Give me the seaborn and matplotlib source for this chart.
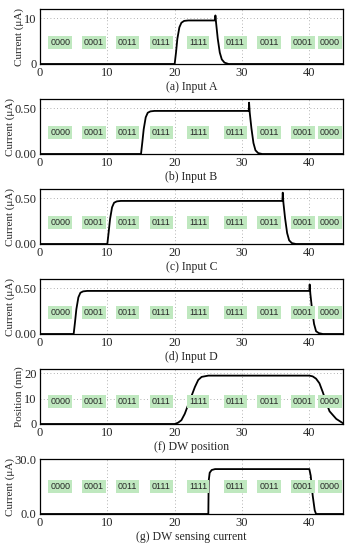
import numpy as np
import pandas as pd
import matplotlib
matplotlib.use("Agg")
import matplotlib.pyplot as plt
import seaborn as sns

sns.set_style("white")
plt.rcParams['font.family'] = ['Liberation Serif', 'DejaVu Serif']
plt.rcParams['mathtext.fontset'] = 'stix'

# ---- data ----
state_labels = ["0000", "0001", "0011", "0111", "1111", "0111", "0011", "0001", "0000"]
state_x = [3.0, 8.0, 13.0, 18.0, 23.5, 29.0, 34.0, 39.0, 43.0]

t_a = [0, 20, 20.2, 20.4, 20.7, 21.0, 21.4, 22.0, 26.0, 26.05, 26.15, 26.4, 26.7, 27.0, 27.4, 28.0, 45]
v_a = [0, 0, 2.5, 5.5, 8.0, 9.0, 9.4, 9.5, 9.5, 10.6, 9.0, 5.5, 2.5, 1.0, 0.3, 0.0, 0]

t_b = [0, 15, 15.2, 15.4, 15.7, 16.0, 16.4, 17.0, 31.0, 31.05, 31.15, 31.4, 31.7, 32.0, 32.4, 33.0, 45]
v_b = [0, 0, 0.13, 0.27, 0.40, 0.45, 0.465, 0.47, 0.47, 0.56, 0.45, 0.28, 0.12, 0.04, 0.01, 0.0, 0]

t_c = [0, 10, 10.2, 10.4, 10.7, 11.0, 11.4, 12.0, 36.0, 36.05, 36.15, 36.4, 36.7, 37.0, 37.4, 38.0, 45]
v_c = [0, 0, 0.13, 0.27, 0.40, 0.45, 0.465, 0.47, 0.47, 0.56, 0.45, 0.28, 0.12, 0.04, 0.01, 0.0, 0]

t_d = [0, 5, 5.2, 5.4, 5.7, 6.0, 6.4, 7.0, 40.0, 40.05, 40.15, 40.4, 40.7, 41.0, 41.4, 42.0, 45]
v_d = [0, 0, 0.13, 0.27, 0.40, 0.45, 0.465, 0.47, 0.47, 0.54, 0.44, 0.27, 0.11, 0.03, 0.01, 0.0, 0]

t_f = [0, 20, 20.5, 21.0, 21.5, 22.0, 22.5, 23.0, 23.5, 24.0, 25.0, 30.0, 35.0, 40.0, 40.5, 41.0, 41.5, 42.0, 42.5, 43.0, 44.0, 45.0]
v_f = [0, 0, 0.5, 1.5, 4.0, 7.5, 11.0, 14.5, 17.3, 18.5, 19.0, 19.0, 19.0, 19.0, 18.7, 17.8, 16.0, 12.5, 8.5, 5.0, 2.0, 0.3]

t_g = [0, 25, 25.05, 25.2, 25.5, 26.0, 40.0, 40.2, 40.5, 40.8, 41.0, 45]
v_g = [0, 0, 18.0, 22.5, 24.0, 24.5, 24.5, 21.0, 10.0, 2.0, 0.0, 0]

panels = [
    dict(t=t_a, v=v_a, ylim=(0, 12), yticks=[0, 10], yfmt="{:.0f}", ylabel="Current (μA)", title="(a) Input A", ly=4.6),
    dict(t=t_b, v=v_b, ylim=(0, 0.6), yticks=[0, 0.5], yfmt="{:.2f}", ylabel="Current (μA)", title="(b) Input B", ly=0.23),
    dict(t=t_c, v=v_c, ylim=(0, 0.6), yticks=[0, 0.5], yfmt="{:.2f}", ylabel="Current (μA)", title="(c) Input C", ly=0.23),
    dict(t=t_d, v=v_d, ylim=(0, 0.6), yticks=[0, 0.5], yfmt="{:.2f}", ylabel="Current (μA)", title="(d) Input D", ly=0.23),
    dict(t=t_f, v=v_f, ylim=(0, 21.6), yticks=[0, 10, 20], yfmt="{:.0f}", ylabel="Position (nm)", title="(f) DW position", ly=9.0),
    dict(t=t_g, v=v_g, ylim=(0, 30), yticks=[0, 30], yfmt="{:.1f}", ylabel="Current (μA)", title="(g) DW sensing current", ly=15.0),
]

W, H = 348, 546
fig = plt.figure(figsize=(W / 100, H / 100), dpi=100)

for i, p in enumerate(panels):
    top = 9 + 90 * i
    bot = 64 + 90 * i
    ax = fig.add_axes([40 / W, 1 - bot / H, 303 / W, (bot - top) / H])
    df = pd.DataFrame({"t": p["t"], "v": p["v"]})
    sns.lineplot(data=df, x="t", y="v", ax=ax, color="black", linewidth=1.3, sort=False)
    ax.set_xlim(0, 45)
    ax.set_ylim(*p["ylim"])
    ax.set_xticks([0, 10, 20, 30, 40])
    ax.set_yticks(p["yticks"])
    ax.set_yticklabels([p["yfmt"].format(y) for y in p["yticks"]])
    ax.grid(True, linestyle=(0, (1, 3)), color="#999999", linewidth=0.6)
    ax.tick_params(direction="in", length=3, labelsize=9, pad=2.5, width=0.6)
    for s in ax.spines.values():
        s.set_linewidth(0.9)
        s.set_color("black")
    ax.set_xlabel(p["title"], fontsize=8.5, labelpad=1)
    ax.set_ylabel(p["ylabel"], fontsize=8, labelpad=0)
    for lab, x in zip(state_labels, state_x):
        ax.text(x, p["ly"], lab, ha="center", va="center", fontsize=6.5,
                family=["Liberation Sans", "DejaVu Sans"],
                bbox=dict(boxstyle="square,pad=0.22", facecolor="#bfe8bf", edgecolor="none"),
                zorder=3)

fig.savefig("out.png", dpi=100)
